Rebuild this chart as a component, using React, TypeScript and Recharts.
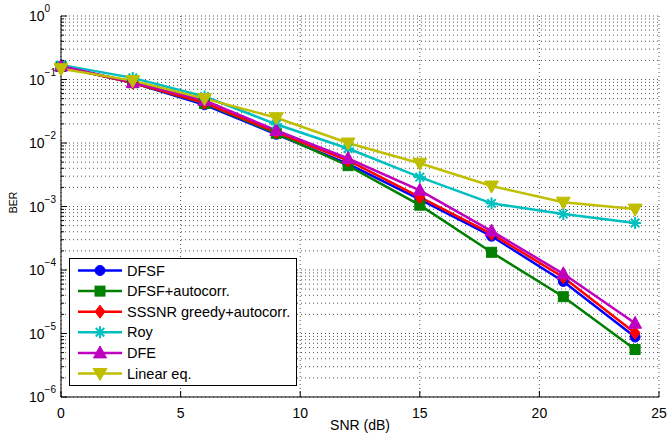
import {
  CartesianGrid,
  Legend,
  Line,
  LineChart,
  XAxis,
  YAxis,
} from "recharts";

const snr = [0, 3, 6, 9, 12, 15, 18, 21, 24];
const dfsf = [0.16, 0.089, 0.04, 0.0137, 0.0047, 0.0013, 0.00034, 0.000066, 0.0000088];
const dfsfAuto = [0.16, 0.089, 0.042, 0.0142, 0.0044, 0.00105, 0.00019, 0.000038, 0.0000056];
const sssnr = [0.16, 0.089, 0.043, 0.0148, 0.0053, 0.0014, 0.00037, 0.000077, 0.0000102];
const roy = [0.17, 0.106, 0.054, 0.0197, 0.0082, 0.0029, 0.00112, 0.00076, 0.00055];
const dfe = [0.163, 0.09, 0.047, 0.0158, 0.0057, 0.0018, 0.00041, 0.000087, 0.0000145];
const linear = [0.148, 0.096, 0.05, 0.025, 0.01, 0.0048, 0.0021, 0.00117, 0.00091];

const xTicks = [0, 5, 10, 15, 20, 25];
const decades = [1e-6, 1e-5, 1e-4, 1e-3, 1e-2, 1e-1, 1];
const mantissas = [2, 3, 4, 5, 6, 7, 8, 9];
const yTicks = [
  ...decades,
  ...decades.slice(0, -1).flatMap((d) => mantissas.map((m) => m * d)),
].sort((a, b) => a - b);

const series = [
  { key: "dfsf", name: "DFSF", color: "#0000ff", shape: "circle", values: dfsf },
  { key: "dfsfAuto", name: "DFSF+autocorr.", color: "#008000", shape: "square", values: dfsfAuto },
  { key: "sssnr", name: "SSSNR greedy+autocorr.", color: "#ff0000", shape: "diamond", values: sssnr },
  { key: "roy", name: "Roy", color: "#00bfbf", shape: "star", values: roy },
  { key: "dfe", name: "DFE", color: "#bf00bf", shape: "up", values: dfe },
  { key: "linear", name: "Linear eq.", color: "#bfbf00", shape: "down", values: linear },
];

const data = snr.map((x, i) => {
  const row: Record<string, number> = { snr: x };
  series.forEach((s) => {
    row[s.key] = s.values[i];
  });
  return row;
});

const FONT = "'Liberation Sans', Arial, Helvetica, sans-serif";

function Marker({ shape, cx, cy, color }: { shape: string; cx: number; cy: number; color: string }) {
  if (cx == null || cy == null) return null;
  switch (shape) {
    case "circle":
      return <circle cx={cx} cy={cy} r={5} fill={color} stroke={color} />;
    case "square":
      return <rect x={cx - 5} y={cy - 5} width={10} height={10} fill={color} stroke={color} />;
    case "diamond":
      return (
        <polygon
          points={`${cx},${cy - 6.5} ${cx + 5},${cy} ${cx},${cy + 6.5} ${cx - 5},${cy}`}
          fill={color}
          stroke={color}
        />
      );
    case "star": {
      const r = 6;
      const d = r * 0.707;
      return (
        <g stroke={color} strokeWidth={2}>
          <line x1={cx - r} y1={cy} x2={cx + r} y2={cy} />
          <line x1={cx} y1={cy - r} x2={cx} y2={cy + r} />
          <line x1={cx - d} y1={cy - d} x2={cx + d} y2={cy + d} />
          <line x1={cx - d} y1={cy + d} x2={cx + d} y2={cy - d} />
        </g>
      );
    }
    case "up":
      return (
        <polygon
          points={`${cx},${cy - 7} ${cx + 6.5},${cy + 5} ${cx - 6.5},${cy + 5}`}
          fill={color}
          stroke={color}
        />
      );
    default:
      return (
        <polygon
          points={`${cx},${cy + 7} ${cx + 7},${cy - 5} ${cx - 7},${cy - 5}`}
          fill={color}
          stroke={color}
        />
      );
  }
}

const isMajor = (v: number) => decades.includes(v);

function LeftTick({ x, y, payload }: any) {
  const v = payload.value;
  const major = isMajor(v);
  const exp = Math.round(Math.log10(v));
  return (
    <g>
      <line x1={x} x2={x + (major ? 6 : 3)} y1={y} y2={y} stroke="#000" />
      {major && (
        <text x={x - 32} y={y + 5} fontSize={14} fontFamily={FONT} fill="#000">
          10
          <tspan dy={-9} fontSize={10}>
            {exp === 0 ? "0" : `\u2212${-exp}`}
          </tspan>
        </text>
      )}
    </g>
  );
}

function RightTick({ x, y, payload }: any) {
  const major = isMajor(payload.value);
  return <line x1={x} x2={x - (major ? 6 : 3)} y1={y} y2={y} stroke="#000" />;
}

function BottomTick({ x, y, payload }: any) {
  return (
    <g>
      <line x1={x} x2={x} y1={y} y2={y - 6} stroke="#000" />
      <text x={x} y={y + 21} textAnchor="middle" fontSize={14} fontFamily={FONT} fill="#000">
        {payload.value}
      </text>
    </g>
  );
}

function TopTick({ x, y }: any) {
  return <line x1={x} x2={x} y1={y} y2={y + 6} stroke="#000" />;
}

function LegendBox() {
  const rowH = 20.6;
  return (
    <div
      style={{
        border: "1px solid #000",
        background: "#fff",
        width: 228,
        height: 128,
        boxSizing: "border-box",
      }}
    >
      <svg width={226} height={126}>
        {series.map((s, i) => {
          const cy = 11.5 + i * rowH;
          return (
            <g key={s.key}>
              <line x1={8} x2={52} y1={cy} y2={cy} stroke={s.color} strokeWidth={2.5} />
              <Marker shape={s.shape} cx={30} cy={cy} color={s.color} />
              <text x={57} y={cy + 5} fontSize={14.5} fontFamily={FONT} fill="#000">
                {s.name}
              </text>
            </g>
          );
        })}
      </svg>
    </div>
  );
}

export default function App() {
  return (
    <div style={{ position: "absolute", left: 0, top: 0, background: "#fff" }}>
      <LineChart
        width={667}
        height={437}
        data={data}
        margin={{ top: 16, right: 8, bottom: 0, left: 11 }}
      >
        <CartesianGrid stroke="#555" strokeDasharray="1 3" />
        <XAxis
          dataKey="snr"
          type="number"
          domain={[0, 25]}
          ticks={xTicks}
          interval={0}
          height={40}
          tickSize={0}
          tickMargin={0}
          tick={<BottomTick />}
          axisLine={{ stroke: "#000" }}
          tickLine={false}
          label={{
            content: ({ viewBox }: any) => (
              <text
                x={viewBox.x + viewBox.width / 2}
                y={viewBox.y + 33}
                textAnchor="middle"
                fontSize={14}
                fontFamily={FONT}
                fill="#000"
              >
                SNR (dB)
              </text>
            ),
          }}
        />
        <XAxis
          xAxisId="top"
          orientation="top"
          dataKey="snr"
          type="number"
          domain={[0, 25]}
          ticks={xTicks}
          interval={0}
          height={0}
          tickSize={0}
          tickMargin={0}
          tick={<TopTick />}
          axisLine={{ stroke: "#000" }}
          tickLine={false}
        />
        <YAxis
          type="number"
          scale="log"
          domain={[1e-6, 1]}
          allowDataOverflow
          ticks={yTicks}
          interval={0}
          width={50}
          tickSize={0}
          tickMargin={0}
          tick={<LeftTick />}
          axisLine={{ stroke: "#000" }}
          tickLine={false}
          label={{
            content: ({ viewBox }: any) => {
              const lx = viewBox.x + 5.7;
              const ly = viewBox.y + viewBox.height / 2 - 4;
              return (
                <text
                  x={lx}
                  y={ly}
                  transform={`rotate(-90 ${lx} ${ly})`}
                  textAnchor="middle"
                  fontSize={10.5}
                  fontFamily={FONT}
                  fill="#000"
                >
                  BER
                </text>
              );
            },
          }}
        />
        <YAxis
          yAxisId="right"
          orientation="right"
          type="number"
          scale="log"
          domain={[1e-6, 1]}
          allowDataOverflow
          ticks={yTicks}
          interval={0}
          width={0}
          tickSize={0}
          tickMargin={0}
          tick={<RightTick />}
          axisLine={{ stroke: "#000" }}
          tickLine={false}
        />
        {series.map((s) => (
          <Line
            key={s.key}
            dataKey={s.key}
            name={s.name}
            type="linear"
            stroke={s.color}
            strokeWidth={2.5}
            isAnimationActive={false}
            activeDot={false}
            dot={(p: any) => (
              <Marker key={`${s.key}-${p.index}`} shape={s.shape} cx={p.cx} cy={p.cy} color={s.color} />
            )}
          />
        ))}
        <Legend
          layout="vertical"
          align="center"
          verticalAlign="middle"
          content={() => <LegendBox />}
          wrapperStyle={{ position: "absolute", left: 69, top: 258, width: 228, height: 128 }}
        />
      </LineChart>
    </div>
  );
}
